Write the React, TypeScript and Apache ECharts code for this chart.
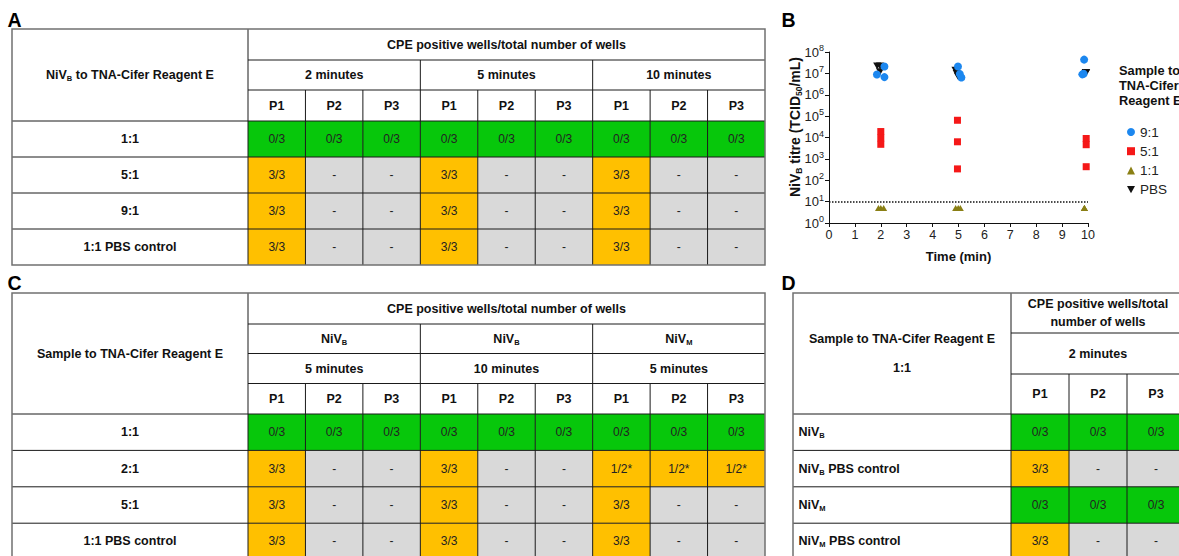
import React, { useEffect, useRef } from 'react';
import * as echarts from 'echarts';

const FONT = '"Liberation Sans", Arial, Helvetica, sans-serif';

// ---------------- Table data ----------------
const PASSAGES = ['P1', 'P2', 'P3'];
const CPE_HEADER = 'CPE positive wells/total number of wells';

const A_LABEL_HEADER = ['NiV{sub|B} to TNA-Cifer Reagent E'];
const A_TIMES = ['2 minutes', '5 minutes', '10 minutes'];
const A_ROWS = ['1:1', '5:1', '9:1', '1:1 PBS control'];
const A_CELLS = [
  ['0/3', '0/3', '0/3', '0/3', '0/3', '0/3', '0/3', '0/3', '0/3'],
  ['3/3', '-', '-', '3/3', '-', '-', '3/3', '-', '-'],
  ['3/3', '-', '-', '3/3', '-', '-', '3/3', '-', '-'],
  ['3/3', '-', '-', '3/3', '-', '-', '3/3', '-', '-'],
];

const C_LABEL_HEADER = ['Sample to TNA-Cifer Reagent E'];
const C_VIRUSES = ['NiV{sub|B}', 'NiV{sub|B}', 'NiV{sub|M}'];
const C_TIMES = ['5 minutes', '10 minutes', '5 minutes'];
const C_ROWS = ['1:1', '2:1', '5:1', '1:1 PBS control'];
const C_CELLS = [
  ['0/3', '0/3', '0/3', '0/3', '0/3', '0/3', '0/3', '0/3', '0/3'],
  ['3/3', '-', '-', '3/3', '-', '-', '1/2*', '1/2*', '1/2*'],
  ['3/3', '-', '-', '3/3', '-', '-', '3/3', '-', '-'],
  ['3/3', '-', '-', '3/3', '-', '-', '3/3', '-', '-'],
];

const D_LABEL_HEADER = ['Sample to TNA-Cifer Reagent E', '1:1'];
const D_CPE_HEADER = ['CPE positive wells/total', 'number of wells'];
const D_TIMES = ['2 minutes'];
const D_ROWS = ['NiV{sub|B}', 'NiV{sub|B} PBS control', 'NiV{sub|M}', 'NiV{sub|M} PBS control'];
const D_CELLS = [
  ['0/3', '0/3', '0/3'],
  ['3/3', '-', '-'],
  ['0/3', '0/3', '0/3'],
  ['3/3', '-', '-'],
];

// ---------------- Scatter data (time min, titre TCID50/mL) ----------------
const SERIES_NAMES = ['9:1', '5:1', '1:1', 'PBS'];
const TITRE_9_1: [number, number][] = [
  [1.85, 8.9e6], [2.14, 2.1e7], [2.14, 6.7e6],
  [4.98, 2.1e7], [5.05, 9.3e6], [5.11, 6.4e6],
  [9.85, 4.4e7], [9.78, 9.0e6], [9.83, 9.6e6],
];
const TITRE_5_1: [number, number][] = [
  [2.0, 1.9e4], [2.0, 9.5e3], [2.0, 4.8e3],
  [4.96, 6.4e4], [4.96, 6.3e3], [4.96, 3.4e2],
  [9.93, 9.0e3], [9.93, 4.6e3], [9.93, 4.3e2],
];
const TITRE_1_1: [number, number][] = [
  [1.91, 5], [2.0, 5], [2.11, 5],
  [4.89, 5], [4.99, 5], [5.07, 5],
  [9.86, 5], [9.86, 5], [9.86, 5],
];
const TITRE_PBS: [number, number][] = [
  [1.86, 2.2e7], [1.97, 2.2e7], [1.97, 1.2e7],
  [4.88, 1.4e7], [4.93, 1.0e7], [4.97, 7.5e6],
  [9.93, 1.1e7], [9.91, 1.1e7], [9.91, 1.0e7],
];
const DETECTION_LIMIT = 10;
const X_MIN = 0;
const X_MAX = 10;
const Y_MIN = 1;
const Y_MAX = 1e8;

// ---------------- Styling ----------------
const GREEN = '#07c70b';
const YELLOW = '#ffc000';
const GREY = '#d9d9d9';
const INNER = '#1a1a1a';
const OUTER = '#707070';
const TXT = '#111';

const cellFill = (v: string) => (v.startsWith('0/') ? GREEN : v === '-' ? GREY : YELLOW);

function makeText(text: string, x: number, y: number, size: number, weight: string, align = 'center', fill = TXT) {
  return {
    type: 'text',
    silent: true,
    z: 10,
    style: {
      text,
      x,
      y,
      fill,
      fontSize: size,
      fontWeight: weight,
      fontFamily: FONT,
      textAlign: align,
      textVerticalAlign: 'middle',
      align,
      verticalAlign: 'middle',
      lineHeight: 15,
      rich: {
        sub: { fontSize: 7.5, fontWeight: weight, fontFamily: FONT, fill, verticalAlign: 'bottom' },
      },
    },
  };
}

type Seg = { span: number; lines: string[]; gap?: number };
type TableLayout = {
  left: number;
  labelRight: number;
  colWidth: number;
  top: number;
  headerHeights: number[];
  rowHeight: number;
  labelAlign: 'center' | 'left';
  labelGap: number;
};

function buildTable(L: TableLayout, labelHeader: string[], headerRows: Seg[][], rowLabels: string[], cells: string[][]) {
  const els: any[] = [];
  const nCols = cells[0].length;
  const right = L.labelRight + L.colWidth * nCols;
  const headerH = L.headerHeights.reduce((a, b) => a + b, 0);
  const bodyTop = L.top + headerH;
  const bottom = bodyTop + L.rowHeight * rowLabels.length;
  const hline = (x1: number, x2: number, y: number) => ({
    type: 'line', silent: true, z: 5,
    shape: { x1, y1: y, x2, y2: y },
    style: { stroke: INNER, lineWidth: 1 },
  });
  const vline = (x: number, y1: number, y2: number) => ({
    type: 'line', silent: true, z: 5,
    shape: { x1: x, y1, x2: x, y2 },
    style: { stroke: INNER, lineWidth: 1 },
  });
  els.push({ type: 'rect', silent: true, z: 1, shape: { x: L.left, y: L.top, width: right - L.left, height: bottom - L.top }, style: { fill: '#fff' } });
  cells.forEach((row, r) =>
    row.forEach((v, c) => {
      const x = L.labelRight + c * L.colWidth;
      const y = bodyTop + r * L.rowHeight;
      els.push({ type: 'rect', silent: true, z: 2, shape: { x, y, width: L.colWidth, height: L.rowHeight }, style: { fill: cellFill(v) } });
      els.push(makeText(v, x + L.colWidth / 2, y + L.rowHeight / 2, 12, 'normal', 'center', '#222'));
    })
  );
  rowLabels.forEach((lab, r) => {
    const y = bodyTop + (r + 0.5) * L.rowHeight;
    const x = L.labelAlign === 'center' ? (L.left + L.labelRight) / 2 : L.left + 5.5;
    els.push(makeText(lab, x, y, 12.5, 'bold', L.labelAlign));
    els.push(hline(L.left, right, bodyTop + r * L.rowHeight));
  });
  const n = labelHeader.length;
  labelHeader.forEach((t, i) => {
    const cy = L.top + headerH / 2 + (i - (n - 1) / 2) * L.labelGap;
    els.push(makeText(t, (L.left + L.labelRight) / 2, cy, 12.5, 'bold'));
  });
  let y = L.top;
  headerRows.forEach((segs, i) => {
    const h = L.headerHeights[i];
    let c = 0;
    segs.forEach((seg) => {
      const x0 = L.labelRight + c * L.colWidth;
      const x1 = x0 + seg.span * L.colWidth;
      const m = seg.lines.length;
      seg.lines.forEach((t, k) => {
        const cy = y + h / 2 + (k - (m - 1) / 2) * (seg.gap || 15);
        els.push(makeText(t, (x0 + x1) / 2, cy, 12.5, 'bold'));
      });
      if (c + seg.span < nCols) els.push(vline(x1, y, y + h));
      c += seg.span;
    });
    if (i > 0) els.push(hline(L.labelRight, right, y));
    y += h;
  });
  for (let c = 1; c < nCols; c++) els.push(vline(L.labelRight + c * L.colWidth, bodyTop, bottom));
  els.push(vline(L.labelRight, L.top, bottom));
  els.push({
    type: 'rect', silent: true, z: 6,
    shape: { x: L.left, y: L.top, width: right - L.left, height: bottom - L.top },
    style: { fill: 'none', stroke: OUTER, lineWidth: 1.5 },
  });
  return els;
}

const pRow = (groups: number): Seg[] => {
  const out: Seg[] = [];
  for (let g = 0; g < groups; g++) PASSAGES.forEach((p) => out.push({ span: 1, lines: [p] }));
  return out;
};

function buildGraphics() {
  const els: any[] = [];
  const colW = (765 - 248) / 9;
  els.push(
    ...buildTable(
      { left: 12, labelRight: 248, colWidth: colW, top: 29, headerHeights: [31, 30, 31], rowHeight: 36, labelAlign: 'center', labelGap: 15 },
      A_LABEL_HEADER,
      [[{ span: 9, lines: [CPE_HEADER] }], A_TIMES.map((t) => ({ span: 3, lines: [t] })), pRow(3)],
      A_ROWS,
      A_CELLS
    )
  );
  els.push(
    ...buildTable(
      { left: 12, labelRight: 248, colWidth: colW, top: 293, headerHeights: [31, 29.5, 30, 30.5], rowHeight: 36.4, labelAlign: 'center', labelGap: 15 },
      C_LABEL_HEADER,
      [
        [{ span: 9, lines: [CPE_HEADER] }],
        C_VIRUSES.map((v) => ({ span: 3, lines: [v] })),
        C_TIMES.map((t) => ({ span: 3, lines: [t] })),
        pRow(3),
      ],
      C_ROWS,
      C_CELLS
    )
  );
  els.push(
    ...buildTable(
      { left: 793, labelRight: 1011, colWidth: 58, top: 293, headerHeights: [40, 41, 40], rowHeight: 36.4, labelAlign: 'left', labelGap: 28.6 },
      D_LABEL_HEADER,
      [[{ span: 3, lines: D_CPE_HEADER, gap: 18.3 }], D_TIMES.map((t) => ({ span: 3, lines: [t] })), pRow(1)],
      D_ROWS,
      D_CELLS
    )
  );
  // panel letters
  const letter = (t: string, x: number, y: number) => makeText(t, x, y, 19.5, 'bold', 'left', '#000');
  els.push(letter('A', 7.5, 20), letter('B', 781.5, 20), letter('C', 7.5, 282.5), letter('D', 781.5, 282.5));
  // y axis title
  els.push({
    type: 'text', silent: true, z: 10, x: 795, y: 127, rotation: Math.PI / 2,
    style: {
      text: 'NiV{sub|B} titre (TCID{sub|50}/mL)', x: 0, y: 0, fill: TXT, fontSize: 14, fontWeight: 'bold', fontFamily: FONT,
      textAlign: 'center', textVerticalAlign: 'middle', align: 'center', verticalAlign: 'middle', lineHeight: 16,
      rich: { sub: { fontSize: 8.5, fontWeight: 'bold', fontFamily: FONT, fill: TXT, verticalAlign: 'bottom' } },
    },
  });
  // legend title (cut at the right edge, as in the reference)
  els.push({
    type: 'text', silent: true, z: 10,
    style: {
      text: 'Sample to\nTNA-Cifer\nReagent E', x: 1119, y: 85, fill: TXT, fontSize: 12.8, fontWeight: 'bold', fontFamily: FONT,
      textAlign: 'left', textVerticalAlign: 'middle', align: 'left', verticalAlign: 'middle', lineHeight: 15,
    },
  });
  return els;
}

const DOWN_TRI = 'path://M0,0L10,0L5,9Z';

function buildOption() {
  return {
    animation: false,
    textStyle: { fontFamily: FONT },
    grid: { left: 829, top: 52, width: 259, height: 171, containLabel: false, outerBoundsMode: 'none' },
    xAxis: {
      type: 'value', min: X_MIN, max: X_MAX, interval: 1,
      name: 'Time (min)', nameLocation: 'middle', nameGap: 27,
      nameTextStyle: { fontSize: 13, fontWeight: 'bold', color: TXT, fontFamily: FONT },
      axisLine: { show: true, onZero: false, lineStyle: { color: '#111', width: 1 } },
      axisTick: { show: true, length: 4, lineStyle: { color: '#111' } },
      axisLabel: { fontSize: 12.5, color: '#222', margin: 5, fontFamily: FONT },
      splitLine: { show: false },
    },
    yAxis: {
      type: 'log', logBase: 10, min: Y_MIN, max: Y_MAX, splitNumber: 8,
      axisLine: { show: true, onZero: false, lineStyle: { color: '#111', width: 1 } },
      axisTick: { show: true, length: 4, lineStyle: { color: '#111' } },
      minorTick: { show: false },
      splitLine: { show: false },
      axisLabel: {
        formatter: (v: number) => `10{sup|${Math.round(Math.log10(v))}}`,
        fontSize: 13, color: '#222', margin: 5, fontFamily: FONT, lineHeight: 17,
        rich: { sup: { fontSize: 9, color: '#222', fontFamily: FONT, verticalAlign: 'top' } },
      },
    },
    legend: {
      orient: 'vertical', left: 1122, top: 120, itemWidth: 8, itemHeight: 8, itemGap: 5.2,
      selectedMode: false,
      textStyle: { fontSize: 13.5, color: '#222', fontFamily: FONT },
      data: [
        { name: SERIES_NAMES[0], icon: 'circle' },
        { name: SERIES_NAMES[1], icon: 'rect' },
        { name: SERIES_NAMES[2], icon: 'triangle' },
        { name: SERIES_NAMES[3], icon: DOWN_TRI },
      ],
    },
    series: [
      {
        name: SERIES_NAMES[0], type: 'scatter', data: TITRE_9_1, symbol: 'circle', symbolSize: 8, z: 5,
        itemStyle: { color: '#1c87ef', opacity: 1 },
        markLine: {
          silent: true, symbol: ['none', 'none'], label: { show: false },
          lineStyle: { type: 'dotted', color: '#111', width: 1.5 },
          data: [{ yAxis: DETECTION_LIMIT }],
        },
      },
      { name: SERIES_NAMES[1], type: 'scatter', data: TITRE_5_1, symbol: 'rect', symbolSize: 7, z: 4, itemStyle: { color: '#f51818', opacity: 1 } },
      { name: SERIES_NAMES[2], type: 'scatter', data: TITRE_1_1, symbol: 'triangle', symbolSize: [7, 6], z: 4, itemStyle: { color: '#8a7f14', opacity: 1 } },
      { name: SERIES_NAMES[3], type: 'scatter', data: TITRE_PBS, symbol: DOWN_TRI, symbolSize: [8, 7], z: 3, itemStyle: { color: '#111', opacity: 1 } },
    ],
    graphic: { elements: buildGraphics() },
  };
}

export default function App() {
  const ref = useRef<HTMLDivElement>(null);
  useEffect(() => {
    if (!ref.current) return;
    const chart = echarts.init(ref.current, undefined, { renderer: 'svg' });
    chart.setOption(buildOption() as any);
    return () => chart.dispose();
  }, []);
  return <div ref={ref} style={{ position: 'absolute', left: 0, top: 0, width: 1179, height: 556, background: '#fff', overflow: 'hidden' }} />;
}
